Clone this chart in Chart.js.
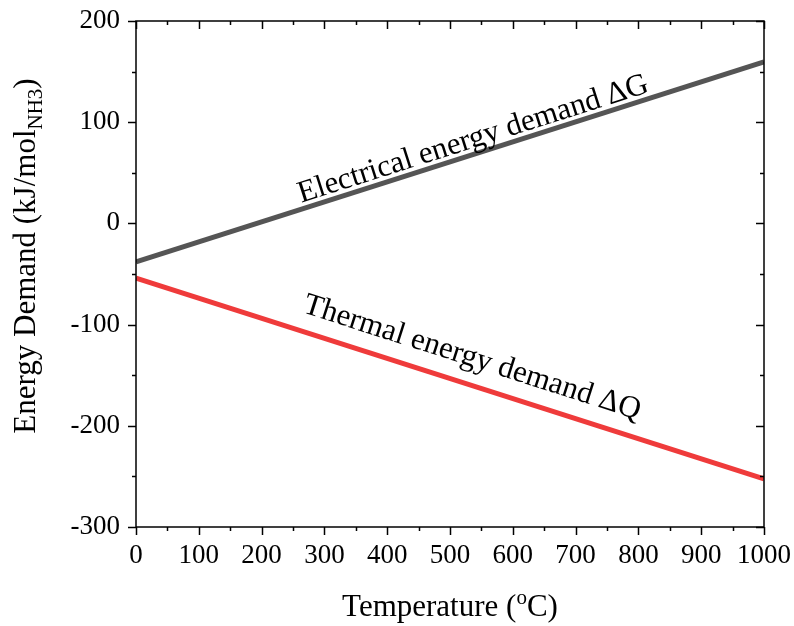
<!DOCTYPE html>
<html>
<head>
<meta charset="utf-8">
<script src="https://cdn.jsdelivr.net/npm/chart.js@4/dist/chart.umd.min.js"></script>
<style>
  html, body { margin: 0; padding: 0; background: #fff; }
  #wrap { width: 794px; height: 626px; }
</style>
</head>
<body>
<div id="wrap"><canvas id="c" width="794" height="626"></canvas></div>
<script>
// Temperature (°C) and energy demand (kJ/mol NH3)
const temperatures = [0, 1000];
const electricalDemand = [-38, 159.5];   // ΔG
const thermalDemand = [-54, -252.5];     // ΔQ

const xTickValues = [0, 100, 200, 300, 400, 500, 600, 700, 800, 900, 1000];
const yTickValues = [-300, -200, -100, 0, 100, 200];

const seriesLabels = ['Electrical energy demand \u0394G', 'Thermal energy demand \u0394Q'];
const seriesColors = ['#555555', '#ef3b3b'];
// centre of each curve label, in (temperature, energy)
const labelAnchors = [
  { x: 537, y: 83 },
  { x: 535, y: -133 }
];

const SERIF = "'Liberation Serif', 'Times New Roman', serif";

const frameAndTitles = {
  id: 'frameAndTitles',
  afterDatasetsDraw(chart) {
    const ctx = chart.ctx;
    const { left, right, top, bottom } = chart.chartArea;
    const xs = chart.scales.x, ys = chart.scales.y;
    ctx.save();

    // curve labels, rotated along their lines
    chart.data.datasets.forEach((ds, i) => {
      const p0x = xs.getPixelForValue(ds.data[0].x);
      const p0y = ys.getPixelForValue(ds.data[0].y);
      const p1x = xs.getPixelForValue(ds.data[ds.data.length - 1].x);
      const p1y = ys.getPixelForValue(ds.data[ds.data.length - 1].y);
      const ang = Math.atan2(p1y - p0y, p1x - p0x);
      const a = labelAnchors[i];
      ctx.save();
      ctx.translate(xs.getPixelForValue(a.x), ys.getPixelForValue(a.y));
      ctx.rotate(ang);
      ctx.font = '31px ' + SERIF;
      ctx.fillStyle = '#000';
      ctx.textAlign = 'center';
      ctx.textBaseline = 'middle';
      ctx.fillText(seriesLabels[i], 0, 0);
      ctx.restore();
    });

    // frame
    ctx.strokeStyle = '#000';
    ctx.lineWidth = 1.5;
    ctx.strokeRect(left, top, right - left, bottom - top);

    // ticks: outside on bottom/left, inside on top/right
    const major = 8, minor = 4;
    ctx.beginPath();
    for (let v = xs.min; v <= xs.max + 1e-6; v += 50) {
      const len = (v % 100 === 0) ? major : minor;
      const px = Math.round(xs.getPixelForValue(v)) + 0.5;
      ctx.moveTo(px, bottom); ctx.lineTo(px, bottom + len);
      ctx.moveTo(px, top); ctx.lineTo(px, top + len);
    }
    for (let v = ys.min; v <= ys.max + 1e-6; v += 50) {
      const len = (Math.abs(v) % 100 === 0) ? major : minor;
      const py = Math.round(ys.getPixelForValue(v)) + 0.5;
      ctx.moveTo(left, py); ctx.lineTo(left - len, py);
      ctx.moveTo(right, py); ctx.lineTo(right - len, py);
    }
    ctx.stroke();

    // x axis title with superscript
    ctx.fillStyle = '#000';
    ctx.textBaseline = 'alphabetic';
    ctx.textAlign = 'left';
    const big = '31px ' + SERIF, small = '21px ' + SERIF;
    const xParts = [['Temperature (', big, 0], ['o', small, -12], ['C)', big, 0]];
    let w = 0;
    xParts.forEach(p => { ctx.font = p[1]; w += ctx.measureText(p[0]).width; });
    let cx = (left + right) / 2 - w / 2;
    const by = 616;
    xParts.forEach(p => { ctx.font = p[1]; ctx.fillText(p[0], cx, by + p[2]); cx += ctx.measureText(p[0]).width; });

    // y axis title with subscript
    const yParts = [['Energy Demand (kJ/mol', big, 0], ['NH3', small, 7], [')', big, 0]];
    w = 0;
    yParts.forEach(p => { ctx.font = p[1]; w += ctx.measureText(p[0]).width; });
    ctx.save();
    ctx.translate(35, 256);
    ctx.rotate(-Math.PI / 2);
    let tx = -w / 2;
    yParts.forEach(p => { ctx.font = p[1]; ctx.fillText(p[0], tx, p[2]); tx += ctx.measureText(p[0]).width; });
    ctx.restore();

    ctx.restore();
  }
};

new Chart(document.getElementById('c'), {
  type: 'line',
  data: {
    datasets: [
      {
        label: seriesLabels[0],
        data: temperatures.map((t, i) => ({ x: t, y: electricalDemand[i] })),
        borderColor: seriesColors[0],
        borderWidth: 5,
        pointRadius: 0,
        tension: 0,
        borderCapStyle: 'butt'
      },
      {
        label: seriesLabels[1],
        data: temperatures.map((t, i) => ({ x: t, y: thermalDemand[i] })),
        borderColor: seriesColors[1],
        borderWidth: 5,
        pointRadius: 0,
        tension: 0,
        borderCapStyle: 'butt'
      }
    ]
  },
  options: {
    responsive: false,
    animation: false,
    devicePixelRatio: 1,
    layout: { padding: { left: 0, top: 21, right: 30, bottom: 0 } },
    plugins: { legend: { display: false }, tooltip: { enabled: false } },
    scales: {
      x: {
        type: 'linear',
        min: 0, max: 1000,
        afterBuildTicks: s => { s.ticks = xTickValues.map(v => ({ value: v })); },
        afterFit: s => { s.height = 99; s.paddingLeft = 0; s.paddingRight = 0; },
        grid: { display: false, drawTicks: false },
        border: { display: false },
        ticks: {
          color: '#000', font: { family: SERIF, size: 27 }, padding: 13,
          maxRotation: 0, autoSkip: false, callback: v => String(v)
        }
      },
      y: {
        type: 'linear',
        min: -300, max: 200,
        afterBuildTicks: s => { s.ticks = yTickValues.map(v => ({ value: v })); },
        afterFit: s => { s.width = 136; s.paddingTop = 0; s.paddingBottom = 0; },
        grid: { display: false, drawTicks: false },
        border: { display: false },
        ticks: {
          color: '#000', font: { family: SERIF, size: 27 }, padding: 16,
          autoSkip: false, callback: v => String(v)
        }
      }
    }
  },
  plugins: [frameAndTitles]
});
</script>
</body>
</html>
